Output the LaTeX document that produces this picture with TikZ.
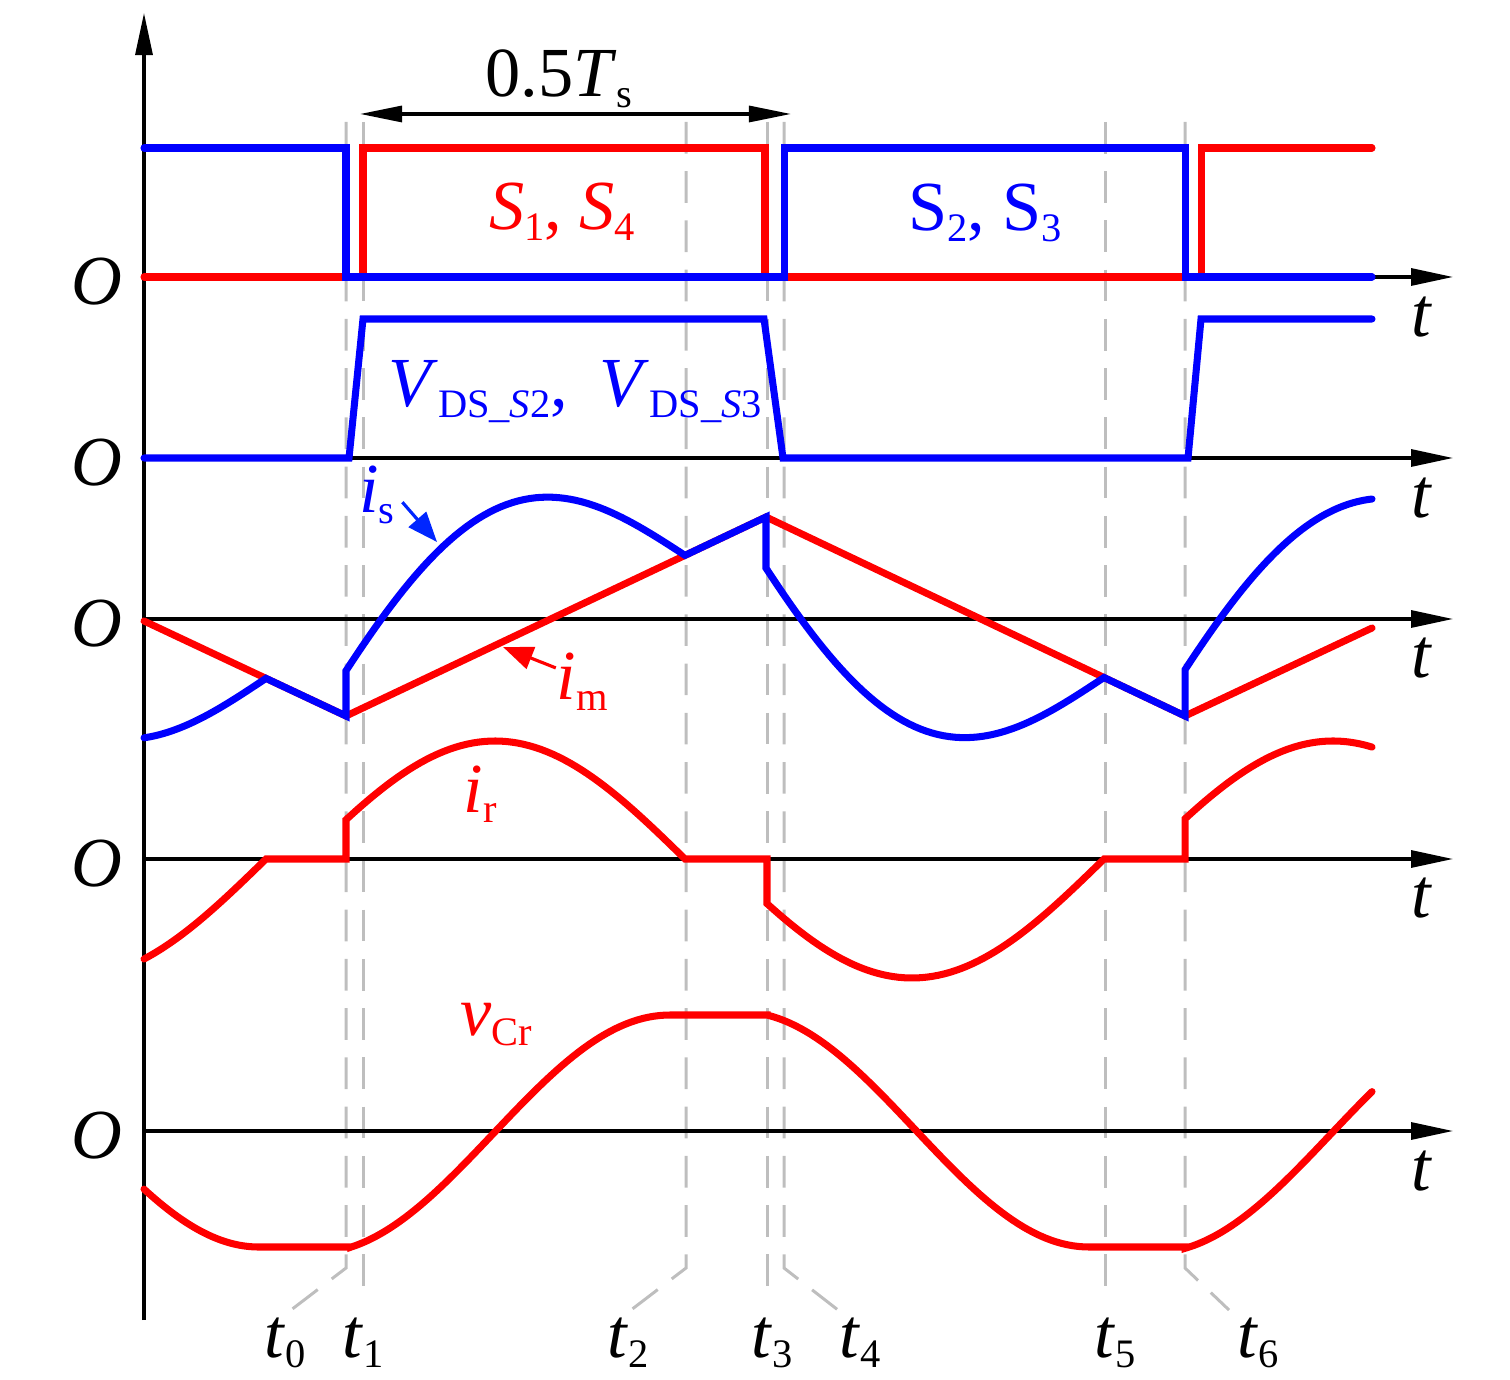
\documentclass[tikz,border=0pt]{standalone}
\usepackage{fontspec}
\setmainfont{Liberation Serif}
\usetikzlibrary{arrows.meta}
\definecolor{dashgray}{RGB}{190,190,190}
\newcommand{\lowsub}[1]{\raisebox{-3pt}{\fontsize{11.5}{13}\selectfont #1}}

\begin{document}
\begin{tikzpicture}[x=0.01cm, y=-0.01cm,
    axis/.style={line width=0.9pt, -{Triangle[length=4.2mm,width=1.7mm]}},
    guide/.style={dashgray, line width=0.85pt, dash pattern=on 9pt off 5pt},
    wave/.style={line width=2pt, line cap=round, samples=60},
    lbl/.style={inner sep=0pt, font=\fontsize{20}{24}\selectfont},
    pointer/.style={line width=0.9pt, -{Triangle[length=3mm,width=2.3mm]}}]
    \useasboundingbox (0,0) rectangle (1510,1380);

    % dashed time marks
    \draw[guide] (346,122) -- (346,1268) -- (291,1310);
    \draw[guide] (363,122) -- (363,1300);
    \draw[guide] (686,122) -- (686,1268) -- (631,1310);
    \draw[guide] (767,122) -- (767,1300);
    \draw[guide] (784,122) -- (784,1268) -- (838,1310);
    \draw[guide] (1105,122) -- (1105,1300);
    \draw[guide] (1185,122) -- (1185,1268) -- (1229,1310);

    % axes
    \draw[axis] (144,1320) -- (144,13);
    \draw[axis] (144,277) -- (1453,277);
    \draw[axis] (144,458) -- (1453,458);
    \draw[axis] (144,619) -- (1453,619);
    \draw[axis] (144,859) -- (1453,859);
    \draw[axis] (144,1131) -- (1453,1131);

    \node[lbl] (o1) at (97,282) {\textit{O}};
    \node[lbl] (o2) at (97,463) {\textit{O}};
    \node[lbl] (o3) at (97,624) {\textit{O}};
    \node[lbl] (o4) at (97,864) {\textit{O}};
    \node[lbl] (o5) at (97,1136) {\textit{O}};

    \node[lbl] (t1r) at (1422,317) {\textit{t}};
    \node[lbl] (t2r) at (1422,498) {\textit{t}};
    \node[lbl] (t3r) at (1422,658) {\textit{t}};
    \node[lbl] (t4r) at (1422,898) {\textit{t}};
    \node[lbl] (t5r) at (1422,1171) {\textit{t}};

    % gate signals
    \draw[wave, red] (144,277) -- (363,277) -- (363,148) -- (765,148) -- (765,277)
        -- (1201,277) -- (1201,148) -- (1372,148);
    \draw[wave, blue] (144,148) -- (346,148) -- (346,277) -- (784,277) -- (784,148)
        -- (1185,148) -- (1185,277) -- (1372,277);
    \node[lbl, red, anchor=base] (s14) at (562,230) {\textit{S}\lowsub{1}, \textit{S}\lowsub{4}};
    \node[lbl, blue, anchor=base] (s23) at (985,231) {S\lowsub{2}, S\lowsub{3}};

    % drain-source voltage
    \draw[wave, blue] (144,458) -- (349,458) -- (363,319) -- (764,319) -- (783,458)
        -- (1188,458) -- (1201,319) -- (1372,319);
    \node[lbl, blue, anchor=base] (vds) at (575,407)
        {\textit{V}\lowsub{DS\_\textit{S}2},\hspace{0.45em}\textit{V}\lowsub{DS\_\textit{S}3}};

    % magnetizing and switch current
    \draw[wave, red] (144,621) -- (346,716) -- (766,517) -- (1185,716) -- (1372,628);
    \draw[wave, blue] plot[domain=144:266] (\x,{621+(\x-144)/202*95+139*cos((\x-74)/192*90)})
        -- (346,716)
        -- plot[domain=346:685] (\x,{716-(\x-346)/420*199-136*cos((\x-495)/190*90)})
        -- (766,517)
        -- plot[domain=766:1104] (\x,{517+(\x-766)/419*199+139*cos((\x-912)/192*90)})
        -- (1185,716)
        -- plot[domain=1185:1372] (\x,{716-(\x-1185)/187*88-136*cos((\x-1333)/190*90)});
    \node[lbl, blue, anchor=base] (is) at (377,513) {\textit{i}\lowsub{s}};
    \coordinate (isTip) at (437,542);
    \draw[pointer, blue!85!cyan] ([xshift=2pt,yshift=-2pt]is.east) -- (isTip);
    \node[lbl, red, anchor=base] (im) at (582,700) {\textit{i}\lowsub{m}};
    \coordinate (imTip) at (503,647);
    \draw[pointer, red] ([yshift=4pt]im.west) -- (imTip);

    % resonant current
    \draw[wave, red] plot[domain=144:266] (\x,{859+119*cos((\x-74)/192*90)})
        -- (346,859)
        -- plot[domain=346:685] (\x,{859-118*cos((\x-495)/190*90)})
        -- (767,859)
        -- plot[domain=767:1104] (\x,{859+119*cos((\x-912)/192*90)})
        -- (1185,859)
        -- plot[domain=1185:1372] (\x,{859-118*cos((\x-1333)/190*90)});
    \node[lbl, red, anchor=base] (ir) at (480,812) {\textit{i}\lowsub{r}};

    % resonant capacitor voltage
    \draw[wave, red] plot[domain=144:259] (\x,{1129.4+117.6*sin((\x-85)/174*90)})
        -- (351,1247)
        -- plot[domain=351:670] (\x,{1133.9-118.9*sin((\x-493)/177*90)})
        -- (767,1015)
        -- plot[domain=767:1089] (\x,{1129.4+117.6*sin((\x-915)/174*90)})
        -- (1185,1247)
        -- plot[domain=1185:1372] (\x,{1133.9-118.9*sin((\x-1331)/177*90)});
    \node[lbl, red, anchor=base] (vcr) at (496,1035) {\textit{v}\lowsub{Cr}};

    % half period
    \coordinate (hpL) at (360,114);
    \coordinate (hpR) at (791,114);
    \draw[line width=0.9pt, {Triangle[length=4.2mm,width=1.6mm]}-{Triangle[length=4.2mm,width=1.6mm]}]
        (hpL) -- (hpR);
    \node[lbl, anchor=base] (hp) at (559,97) {0.5\textit{T}\lowsub{s}};

    % instants
    \node[lbl, anchor=base] (t0) at (285,1357) {\textit{t}\lowsub{0}};
    \node[lbl, anchor=base] (t1) at (363,1357) {\textit{t}\lowsub{1}};
    \node[lbl, anchor=base] (t2) at (628,1357) {\textit{t}\lowsub{2}};
    \node[lbl, anchor=base] (t3) at (772,1357) {\textit{t}\lowsub{3}};
    \node[lbl, anchor=base] (t4) at (860,1357) {\textit{t}\lowsub{4}};
    \node[lbl, anchor=base] (t5) at (1115,1357) {\textit{t}\lowsub{5}};
    \node[lbl, anchor=base] (t6) at (1258,1357) {\textit{t}\lowsub{6}};
\end{tikzpicture}
\end{document}
